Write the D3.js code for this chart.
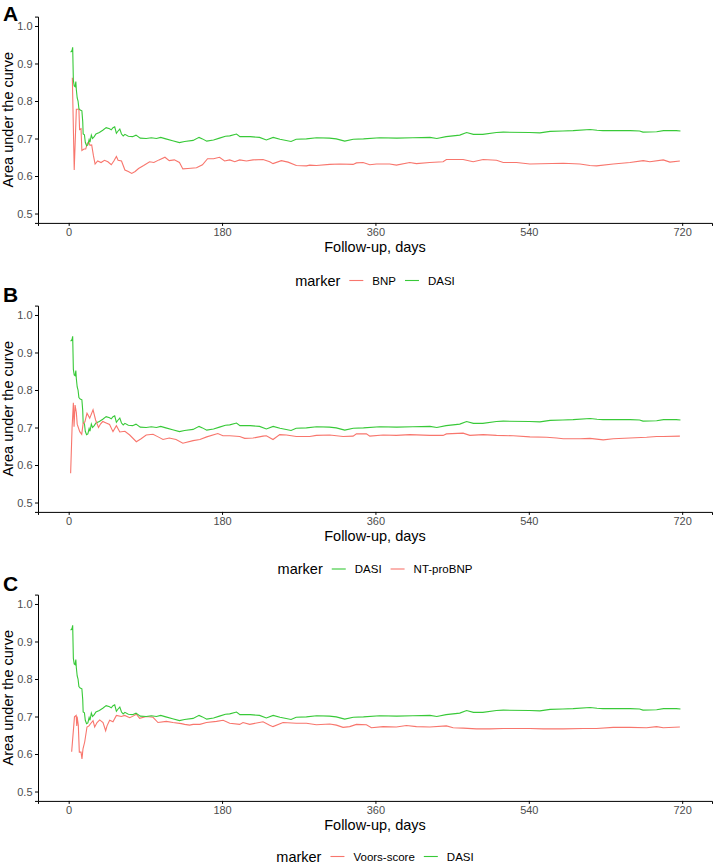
<!DOCTYPE html>
<html lang="en">
<head>
  <meta charset="UTF-8">
  <title>Time-dependent AUC</title>
  <style>
    body { margin: 0; padding: 0; background: #fff; font-family: "Liberation Sans", Arial, sans-serif; }
    .axis text { font-size: 11px; fill: #4d4d4d; font-family: "Liberation Sans", Arial, sans-serif; }
    .axis line, .axis path { stroke: #000; stroke-width: 1px; }
    .axis-label { font-size: 14.5px; fill: #000; }
    .panel-letter { font-size: 21px; font-weight: bold; fill: #000; }
    .line { fill: none; stroke-width: 1.1px; }
    .legend-title { font-size: 14.5px; fill: #000; }
    .legend-text { font-size: 11.5px; fill: #000; }
  </style>
</head>
<body>
  <div id="chart"></div>
  <script src="https://d3js.org/d3.v7.min.js"></script>
  <script>
    // DASI (same in every panel)
    const dasiDays = [2.3, 4.0, 4.7, 5.5, 6.5, 7.5, 8.4, 9.0, 10.0, 11.0, 12.0, 13.5, 15.5, 16.5, 17.0, 18.5, 19.5, 21.0, 22.5, 24.0,
      25.0, 26.6, 28.0, 30.0, 32.0, 36.0, 40.0, 44.0, 48.0, 50.0, 52.0, 54.0, 56.0, 58.0, 60.0, 62.0, 64.0, 66.0, 70.0, 75.0,
      79.0, 84.0, 91.0, 97.0, 103.0, 108.0, 114.0, 122.0, 130.0, 136.0, 146.0, 153.0, 157.0, 162.0, 170.0, 177.0, 184.0,
      189, 197, 201, 213, 224, 232, 240, 248, 261, 267, 279, 291, 306, 314, 324, 334, 346, 365, 385, 404,
      424, 432, 443, 459, 467, 475, 486, 502, 510, 541, 553, 565, 580, 592, 612, 620, 627, 659, 670, 674, 690, 698, 713, 718];
    const dasiAuc = [0.930, 0.935, 0.943, 0.855, 0.840, 0.838, 0.852, 0.830, 0.808, 0.800, 0.780, 0.776, 0.774, 0.745, 0.712, 0.710, 0.690, 0.681, 0.683, 0.697,
      0.690, 0.709, 0.700, 0.705, 0.712, 0.716, 0.722, 0.729, 0.726, 0.723, 0.729, 0.731, 0.714, 0.720, 0.725, 0.712, 0.707, 0.711, 0.706, 0.705,
      0.709, 0.701, 0.700, 0.702, 0.700, 0.703, 0.699, 0.694, 0.689, 0.692, 0.695, 0.703, 0.699, 0.693, 0.696, 0.701, 0.706,
      0.707, 0.712, 0.705, 0.705, 0.703, 0.696, 0.703, 0.698, 0.692, 0.698, 0.699, 0.702, 0.701, 0.699, 0.693, 0.698, 0.699, 0.702, 0.701, 0.702,
      0.703, 0.700, 0.705, 0.709, 0.716, 0.711, 0.711, 0.716, 0.717, 0.716, 0.715, 0.719, 0.720, 0.721, 0.724, 0.722, 0.721, 0.721, 0.720, 0.717, 0.718, 0.721, 0.721, 0.720];

    // BNP (panel A)
    const bnpDays = [4.3, 6.5, 9.0, 12.0, 12.8, 14.5, 15.5, 18, 20, 22, 23.5, 25, 27, 29, 31, 34, 38, 42, 46, 50,
      53, 56, 58, 62, 66, 70, 74, 78, 82, 88, 95, 100, 106, 113, 118, 124, 130, 134, 140, 150, 157, 163, 170, 177, 183,
      189, 194.9, 200.7, 208.6, 216.3, 228.1, 235.9, 239.8, 249.6, 257.5, 267.2, 279, 282.9, 290.7, 306.4, 318.1, 333.8, 337.7, 345.5, 353.4,
      361.2, 376.8, 384.6, 400.3, 408.1, 423.8, 439.4, 443.3, 462.9, 474.7, 486.4, 502.1, 510, 525.6, 541.3, 580.4, 600, 611.7, 619.5, 639.1,
      658.7, 674.3, 682.1, 697.8, 705.6, 717.3];
    const bnpAuc = [0.862, 0.616, 0.778, 0.778, 0.724, 0.726, 0.668, 0.672, 0.672, 0.688, 0.690, 0.682, 0.683, 0.655, 0.632, 0.640, 0.636, 0.642, 0.638, 0.630,
      0.640, 0.652, 0.642, 0.640, 0.616, 0.612, 0.607, 0.612, 0.620, 0.628, 0.638, 0.636, 0.643, 0.650, 0.641, 0.643, 0.636, 0.619, 0.620, 0.622, 0.630, 0.646, 0.646, 0.650, 0.640,
      0.643, 0.638, 0.643, 0.640, 0.643, 0.644, 0.638, 0.633, 0.641, 0.637, 0.628, 0.627, 0.629, 0.628, 0.631, 0.632, 0.631, 0.635, 0.636, 0.630,
      0.632, 0.632, 0.629, 0.636, 0.633, 0.636, 0.638, 0.644, 0.644, 0.638, 0.644, 0.642, 0.636, 0.636, 0.632, 0.634, 0.632, 0.628, 0.627, 0.632,
      0.636, 0.641, 0.638, 0.643, 0.637, 0.640];

    // NT-proBNP (panel B)
    const ntDays = [2.3, 4.0, 5.5, 6.3, 7.5, 9.0, 10.0, 13.0, 15.3, 17.0, 19.0, 21.5, 24.7, 28.6, 31.6, 35.0, 37.5, 40.0, 44.0, 48.0,
      52.0, 56.0, 60.0, 66.0, 71.6, 79.4, 85.0, 91.0, 99.0, 105.0, 110.7, 118.0, 126.0, 134.0, 146.0, 154.0, 162.0, 175.0, 181.0,
      189, 200.7, 206.6, 216.3, 228.1, 232.0, 239.8, 247.7, 255.5, 267.2, 282.9, 290.7, 306.4, 322.0, 333.8, 337.7, 349.4, 353.4, 369.0, 384.6,
      400.3, 423.8, 439.4, 443.3, 462.9, 470.8, 486.4, 502.1, 521.7, 541.3, 560.9, 572.6, 580.4, 600.0, 611.7, 627.4, 639.1, 658.7, 678.2, 690.0,
      697.8, 717.3];
    const ntAuc = [0.578, 0.700, 0.766, 0.702, 0.760, 0.740, 0.709, 0.689, 0.682, 0.711, 0.715, 0.738, 0.725, 0.747, 0.720, 0.700, 0.710, 0.716, 0.712, 0.708,
      0.689, 0.705, 0.688, 0.690, 0.680, 0.662, 0.670, 0.680, 0.682, 0.675, 0.668, 0.672, 0.668, 0.658, 0.665, 0.668, 0.675, 0.684, 0.678,
      0.678, 0.676, 0.671, 0.672, 0.677, 0.678, 0.668, 0.681, 0.680, 0.676, 0.676, 0.679, 0.680, 0.676, 0.677, 0.683, 0.683, 0.677, 0.680, 0.679,
      0.681, 0.679, 0.679, 0.683, 0.685, 0.679, 0.681, 0.679, 0.678, 0.675, 0.674, 0.672, 0.670, 0.670, 0.671, 0.667, 0.670, 0.672, 0.674, 0.676,
      0.676, 0.677];

    // Voors-score (panel C)
    const voorsDays = [3.5, 6.8, 8.8, 9.5, 9.9, 11.3, 12.5, 14.5, 15.6, 16.8, 18.8, 21.5, 23.8, 25.4, 28.6, 30.5, 33.3, 36.4, 40.3, 43.4,
      45.0, 48.1, 52.0, 56.0, 61.8, 65.7, 71.6, 75.5, 79.4, 83.3, 91.1, 99.0, 104.8, 114.6, 122.4, 132.2, 136.1, 142.0, 146.0, 154.0,
      161.7, 173.5, 181.3,
      189, 200.7, 204.6, 212.5, 228.1, 235.9, 239.8, 251.6, 267.2, 279.0, 290.7, 306.4, 314.2, 322.0, 329.8, 337.7, 349.4, 355.3, 369.0, 384.6,
      396.4, 408.1, 423.8, 443.3, 451.2, 462.9, 478.6, 494.3, 510.0, 525.6, 541.3, 556.9, 580.4, 603.9, 619.5, 639.1, 658.7, 678.2, 690.0, 697.8,
      717.3];
    const voorsAuc = [0.606, 0.699, 0.703, 0.675, 0.700, 0.677, 0.605, 0.605, 0.587, 0.614, 0.632, 0.672, 0.675, 0.680, 0.689, 0.672, 0.684, 0.691, 0.684, 0.662,
      0.675, 0.690, 0.686, 0.703, 0.700, 0.703, 0.697, 0.701, 0.706, 0.695, 0.700, 0.698, 0.684, 0.687, 0.684, 0.681, 0.679, 0.677, 0.679, 0.679,
      0.684, 0.687, 0.690,
      0.682, 0.679, 0.684, 0.679, 0.686, 0.677, 0.673, 0.684, 0.682, 0.682, 0.678, 0.680, 0.677, 0.671, 0.673, 0.679, 0.678, 0.670, 0.673, 0.672,
      0.676, 0.673, 0.672, 0.675, 0.670, 0.669, 0.667, 0.667, 0.668, 0.668, 0.668, 0.667, 0.667, 0.668, 0.668, 0.671, 0.671, 0.670, 0.673, 0.670,
      0.672];

    const xTicks = [0, 180, 360, 540, 720];
    const yTicks = [0.5, 0.6, 0.7, 0.8, 0.9, 1.0];
    const panelLetters = ["A", "B", "C"];
    // series order per panel (legend order = drawing order)
    const panelMarkers = [["BNP", "DASI"], ["DASI", "NT-proBNP"], ["Voors-score", "DASI"]];

    const markerColor = { "BNP": "#F8766D", "NT-proBNP": "#F8766D", "Voors-score": "#F8766D", "DASI": "#38C938" };
    const markerData = {
      "DASI": dasiDays.map((d, i) => ({ day: d, auc: dasiAuc[i] })),
      "BNP": bnpDays.map((d, i) => ({ day: d, auc: bnpAuc[i] })),
      "NT-proBNP": ntDays.map((d, i) => ({ day: d, auc: ntAuc[i] })),
      "Voors-score": voorsDays.map((d, i) => ({ day: d, auc: voorsAuc[i] }))
    };

    const width = 714, height = 865, panelH = 289;
    const plot = { left: 38, right: 712, top: 16.6, bottom: 222.9 };
    const letterY = [21, 302, 591];
    const legendY = [280.5, 280, 278.5];

    const svg = d3.select("#chart").append("svg")
      .attr("width", width)
      .attr("height", height);

    const xScale = d3.scaleLinear().domain([-36, 755]).range([plot.left, plot.right]);
    const yScale = d3.scaleLinear().domain([0.475, 1.025]).range([plot.bottom, plot.top]);

    const line = d3.line()
      .x(d => xScale(d.day))
      .y(d => yScale(d.auc));

    panelLetters.forEach((letter, p) => {
      const g = svg.append("g").attr("transform", `translate(0,${p * panelH})`);

      // lines
      panelMarkers[p].forEach(m => {
        g.append("path")
          .datum(markerData[m])
          .attr("class", "line")
          .attr("stroke", markerColor[m])
          .attr("d", line);
      });

      // axes
      g.append("g")
        .attr("class", "axis")
        .attr("transform", `translate(0,${plot.bottom})`)
        .call(d3.axisBottom(xScale).tickValues(xTicks).tickSizeOuter(0).tickSize(3).tickPadding(2.5));

      g.append("g")
        .attr("class", "axis")
        .attr("transform", `translate(${plot.left},0)`)
        .call(d3.axisLeft(yScale).tickValues(yTicks).tickFormat(d3.format(".1f")).tickSizeOuter(0).tickSize(3).tickPadding(2.5));

      g.selectAll(".axis text").attr("fill", "#4d4d4d");

      // axis labels
      g.append("text")
        .attr("class", "axis-label")
        .attr("text-anchor", "middle")
        .attr("x", (plot.left + plot.right) / 2)
        .attr("y", plot.bottom + 29)
        .text("Follow-up, days");

      g.append("text")
        .attr("class", "axis-label")
        .attr("text-anchor", "middle")
        .attr("transform", "rotate(-90)")
        .attr("x", -(plot.top + plot.bottom) / 2)
        .attr("y", 13)
        .text("Area under the curve");

      // panel letter
      svg.append("text")
        .attr("class", "panel-letter")
        .attr("x", 3)
        .attr("y", letterY[p])
        .text(letter);

      // legend
      const lg = g.append("g");
      let cx = 0;
      const title = lg.append("text").attr("class", "legend-title")
        .attr("x", cx).attr("dy", "0.35em").text("marker");
      cx += title.node().getComputedTextLength() + 9;
      panelMarkers[p].forEach((m, i) => {
        lg.append("line")
          .attr("x1", cx).attr("x2", cx + 14)
          .attr("y1", 0).attr("y2", 0)
          .attr("stroke", markerColor[m])
          .attr("stroke-width", 1.1);
        cx += 14 + 9;
        const t = lg.append("text").attr("class", "legend-text")
          .attr("x", cx).attr("dy", "0.35em").text(m);
        cx += t.node().getComputedTextLength();
        if (i < panelMarkers[p].length - 1) cx += 9;
      });
      const shift = (plot.left + plot.right) / 2 - cx / 2;
      lg.attr("transform", `translate(${shift},${legendY[p]})`);
    });
  </script>
</body>
</html>
